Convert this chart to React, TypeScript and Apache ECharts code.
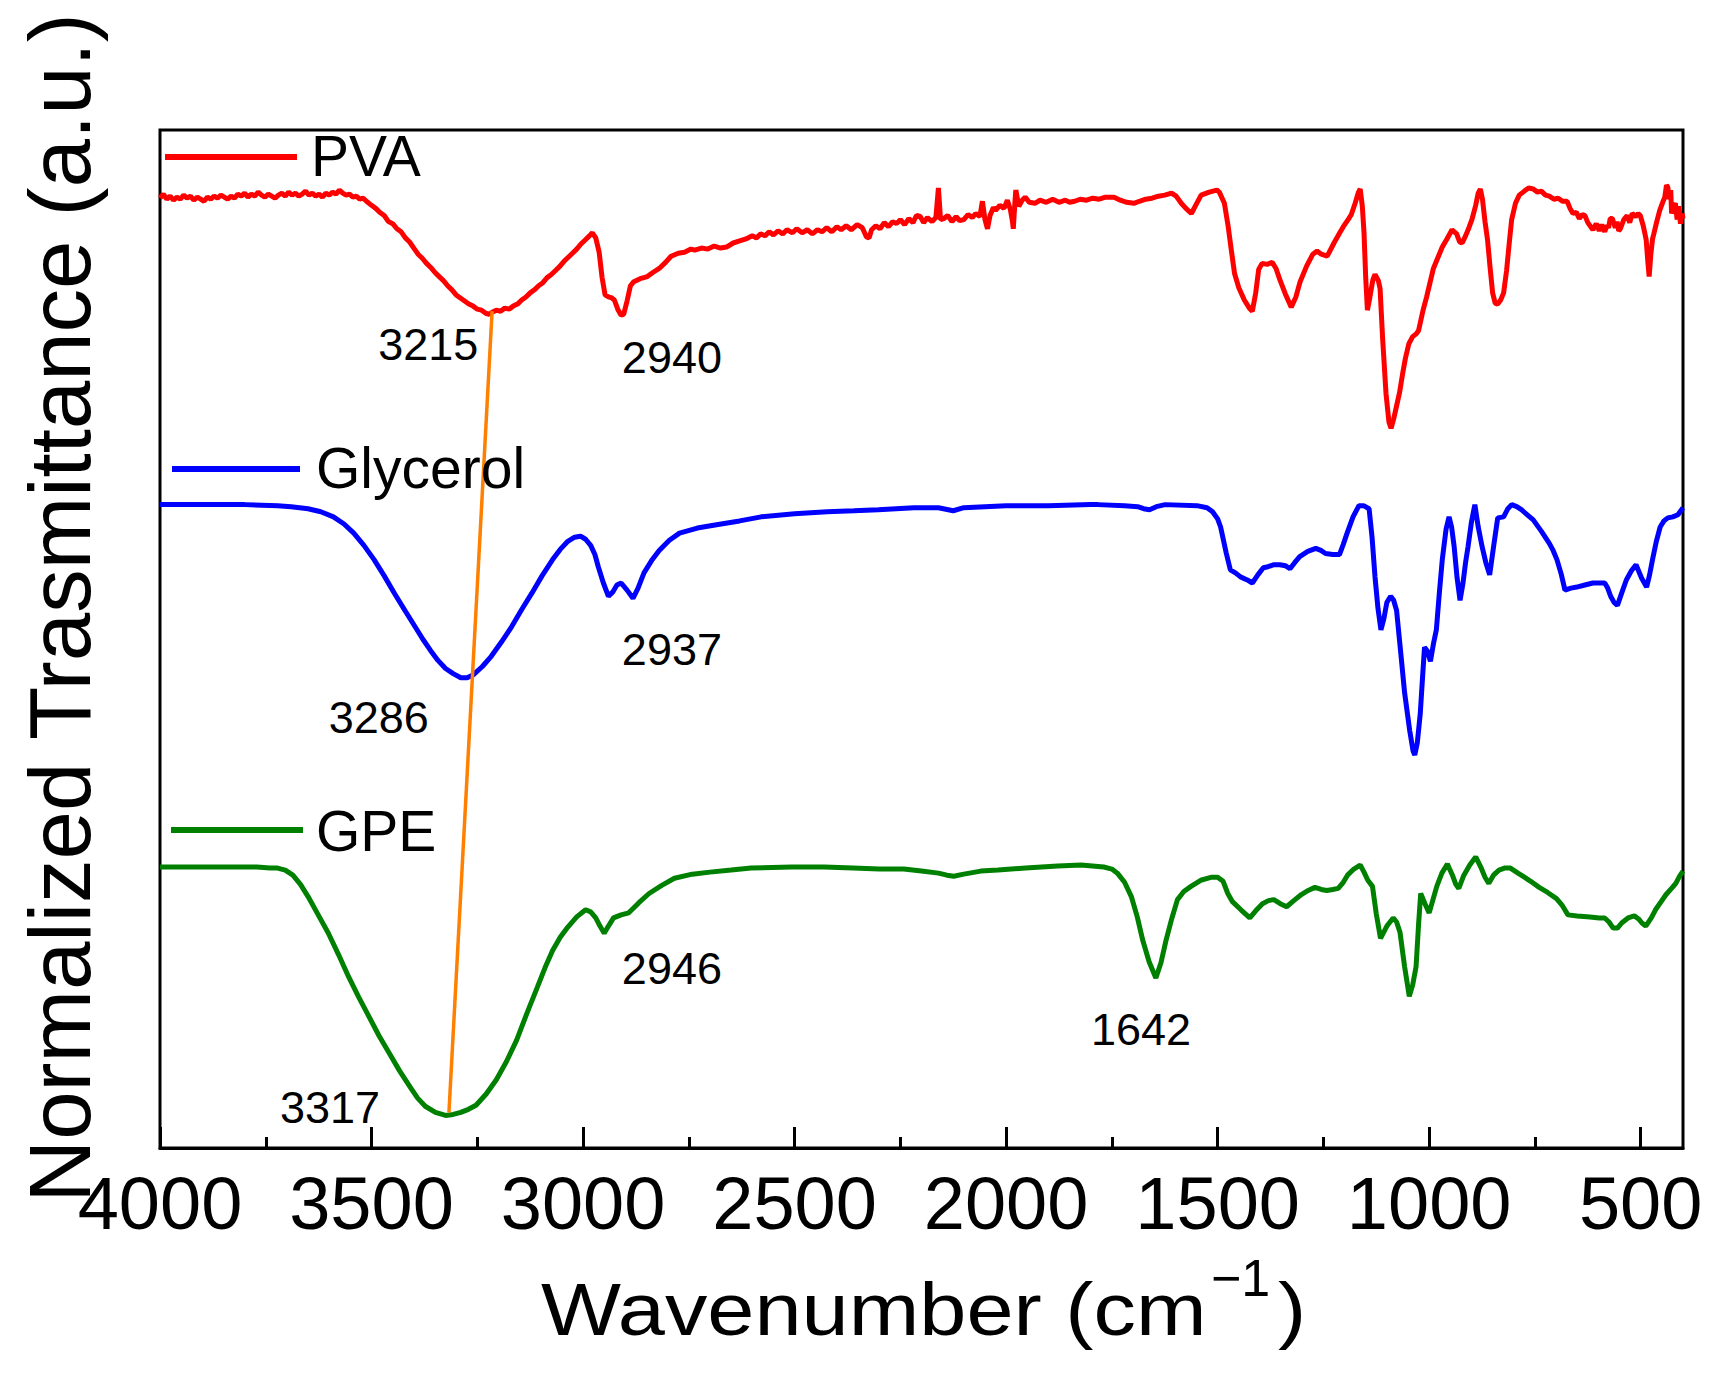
import React, { useEffect, useRef } from "react";
import * as echarts from "echarts";

const FONT = "Arial, 'Liberation Sans', Helvetica, sans-serif";

const xTicks = [4000, 3500, 3000, 2500, 2000, 1500, 1000, 500];
const xMinorTicks = [3750, 3250, 2750, 2250, 1750, 1250, 750];

const seriesNames = ["PVA", "Glycerol", "GPE"];
const seriesColors = ["#ff0000", "#0000ff", "#008000"];

const pva: number[][] = [
  [4000,93.3],[3992,93.7],[3984,93.2],[3976,93.5],[3968,93.1],[3960,93.4],[3952,93.2],[3944,93.6],[3936,93.3],[3928,93.5],
  [3920,93.1],[3912,93.4],[3904,93.2],[3896,93.0],[3888,93.4],[3880,93.2],[3872,93.5],[3864,93.3],[3856,93.6],[3848,93.4],
  [3840,93.2],[3832,93.5],[3824,93.3],[3816,93.7],[3808,93.5],[3800,93.8],[3792,93.4],[3784,93.7],[3776,93.5],[3768,93.9],
  [3760,93.6],[3752,93.4],[3744,93.7],[3736,93.5],[3728,93.3],[3720,93.6],[3712,93.8],[3704,93.5],[3696,93.9],[3688,93.6],
  [3680,93.8],[3672,93.5],[3664,93.7],[3656,94.0],[3648,93.6],[3640,93.8],[3632,93.5],[3624,93.7],[3616,93.4],[3608,93.8],
  [3600,93.6],[3592,93.9],[3584,93.7],[3576,94.1],[3568,93.8],[3560,93.6],[3552,93.7],[3544,93.4],[3536,93.5],[3528,93.2],
  [3520,93.3],[3512,93.0],[3500,92.6],[3490,92.3],[3480,91.9],[3470,91.6],[3460,91.0],[3450,90.8],[3440,90.3],[3430,90.0],
  [3420,89.4],[3410,89.0],[3400,88.4],[3390,87.8],[3380,87.4],[3370,86.9],[3360,86.5],[3350,86.0],[3340,85.6],[3330,85.2],
  [3320,84.7],[3310,84.3],[3300,83.8],[3290,83.5],[3280,83.2],[3270,82.9],[3260,82.7],[3250,82.4],[3240,82.3],[3230,82.0],
  [3222,81.9],[3215,82.1],[3205,82.3],[3195,82.2],[3185,82.5],[3175,82.4],[3165,82.7],[3155,82.9],[3145,83.3],[3135,83.6],
  [3125,84.0],[3115,84.3],[3105,84.7],[3095,85.0],[3085,85.5],[3075,85.8],[3065,86.2],[3055,86.6],[3045,87.1],[3035,87.5],
  [3025,87.9],[3015,88.3],[3005,88.8],[2995,89.2],[2985,89.6],[2978,89.9],[2970,89.4],[2962,88.0],[2955,85.5],[2948,83.8],
  [2940,83.6],[2932,83.5],[2926,83.3],[2918,82.4],[2910,81.8],[2904,81.9],[2896,83.2],[2888,84.7],[2880,85.1],[2865,85.4],
  [2848,85.6],[2835,86.0],[2820,86.4],[2805,87.0],[2792,87.6],[2775,87.9],[2760,88.0],[2745,88.3],[2736,88.2],[2720,88.4],
  [2705,88.3],[2690,88.6],[2675,88.4],[2661,88.5],[2645,88.9],[2630,89.1],[2615,89.3],[2600,89.6],[2590,89.4],[2580,89.8],
  [2570,89.6],[2560,90.0],[2550,89.7],[2539,90.1],[2528,89.8],[2518,90.2],[2505,89.9],[2495,90.3],[2482,89.9],[2470,90.2],
  [2458,89.8],[2446,90.2],[2435,90.0],[2424,90.4],[2412,90.0],[2400,90.5],[2390,90.2],[2378,90.6],[2366,90.2],[2352,90.7],
  [2340,90.4],[2330,89.5],[2324,89.4],[2318,90.2],[2308,90.6],[2298,90.3],[2288,90.9],[2278,90.5],[2268,91.0],[2259,90.8],
  [2250,91.2],[2240,90.7],[2230,91.3],[2220,90.9],[2212,91.6],[2203,91.5],[2195,90.9],[2186,91.4],[2175,91.0],[2166,91.4],
  [2160,94.3],[2155,91.2],[2147,91.3],[2138,91.6],[2128,91.0],[2118,91.5],[2110,91.1],[2100,91.2],[2090,91.7],[2080,91.4],
  [2072,91.8],[2062,91.5],[2056,93.0],[2050,91.2],[2044,90.3],[2038,91.6],[2030,92.4],[2025,92.1],[2015,92.6],[2005,92.3],
  [1997,93.1],[1990,92.2],[1985,91.0],[1983,90.3],[1979,93.0],[1977,94.1],[1970,92.5],[1962,93.1],[1955,93.4],[1945,92.9],
  [1932,92.8],[1920,93.1],[1905,92.9],[1890,93.2],[1875,92.9],[1860,93.1],[1850,92.9],[1838,93.0],[1825,93.2],[1810,93.1],
  [1795,93.3],[1780,93.2],[1765,93.4],[1745,93.4],[1730,93.1],[1715,92.9],[1698,92.8],[1685,93.0],[1670,93.2],[1655,93.3],
  [1640,93.5],[1625,93.6],[1609,93.8],[1598,93.5],[1586,92.8],[1575,92.3],[1562,91.8],[1552,92.6],[1539,93.6],[1520,93.9],
  [1502,94.1],[1496,93.9],[1484,92.8],[1475,90.5],[1468,88.3],[1460,85.9],[1450,84.5],[1437,83.3],[1425,82.5],[1418,82.2],
  [1410,84.0],[1403,86.3],[1395,86.9],[1383,86.8],[1371,87.0],[1362,86.4],[1353,85.3],[1340,83.9],[1326,82.6],[1315,83.6],
  [1305,85.1],[1290,86.6],[1275,87.8],[1265,88.1],[1255,87.8],[1241,87.6],[1225,88.9],[1210,90.0],[1203,90.5],[1190,91.3],
  [1184,91.7],[1175,92.8],[1167,93.9],[1163,94.2],[1158,92.5],[1154,89.9],[1150,85.5],[1146,82.3],[1140,83.6],[1133,85.3],
  [1128,85.8],[1120,85.2],[1116,84.4],[1110,79.5],[1102,74.1],[1095,71.3],[1090,70.7],[1084,71.6],[1077,72.9],[1070,74.2],
  [1063,76.0],[1056,77.6],[1048,79.0],[1039,79.7],[1030,80.0],[1025,80.3],[1015,82.2],[1006,83.6],[998,85.0],[990,86.4],
  [980,87.4],[969,88.5],[958,89.3],[946,90.2],[935,89.8],[928,89.0],[922,88.9],[914,89.6],[906,90.4],[899,91.2],
  [890,92.6],[884,93.8],[879,94.2],[874,93.2],[868,91.0],[862,89.2],[856,86.5],[850,84.0],[844,83.0],[838,82.9],
  [831,83.3],[824,84.0],[817,86.2],[810,89.2],[805,91.2],[796,92.8],[787,93.6],[775,94.0],[765,94.3],[754,94.2],
  [744,93.9],[735,94.0],[725,93.6],[716,93.5],[705,93.2],[695,93.3],[685,93.0],[674,93.0],[667,92.3],[660,91.8],
  [652,91.9],[645,91.3],[638,91.7],[632,91.6],[625,90.9],[618,90.5],[613,90.2],[605,90.8],[598,90.1],[592,90.7],
  [585,90.0],[580,90.6],[576,90.4],[572,91.3],[567,91.3],[560,90.4],[556,91.0],[552,90.1],[548,90.3],[540,91.2],
  [532,91.6],[526,90.9],[520,91.8],[512,91.5],[506,91.8],[501,91.6],[494,90.6],[490,89.8],[487,89.2],[483,87.0],
  [480,85.6],[476,87.8],[472,89.3],[469,89.8],[462,91.0],[455,92.1],[448,92.9],[443,93.4],[439,94.6],[436,94.4],
  [432,93.2],[429,94.1],[427,91.8],[422,92.5],[418,92.8],[414,91.2],[410,92.5],[406,90.8],[402,91.8],[400,91.3]
];

const glycerol: number[][] = [
  [4000,63.2],[3900,63.2],[3800,63.2],[3722,63.1],[3690,63.0],[3650,62.8],[3620,62.5],[3590,62.0],[3565,61.3],[3542,60.4],
  [3518,59.2],[3494,57.8],[3470,56.2],[3446,54.5],[3421,52.8],[3397,51.2],[3379,50.0],[3361,48.9],[3343,47.9],[3325,47.1],
  [3307,46.6],[3289,46.2],[3274,46.2],[3259,46.5],[3238,47.3],[3217,48.3],[3193,49.7],[3169,51.2],[3145,52.9],[3121,54.5],
  [3097,56.2],[3072,57.8],[3054,58.8],[3036,59.6],[3020,60.0],[3006,60.1],[2994,59.8],[2982,59.2],[2972,58.3],[2964,57.1],
  [2952,55.5],[2940,54.2],[2930,54.6],[2920,55.3],[2910,55.5],[2896,54.8],[2882,54.0],[2870,55.0],[2856,56.5],[2838,57.7],
  [2820,58.7],[2796,59.7],[2772,60.4],[2730,60.9],[2688,61.2],[2630,61.6],[2579,62.0],[2500,62.3],[2423,62.5],[2360,62.6],
  [2302,62.7],[2218,62.9],[2160,62.9],[2125,62.6],[2100,62.9],[2050,63.0],[2000,63.1],[1900,63.1],[1800,63.2],[1783,63.2],
  [1720,63.1],[1689,63.0],[1675,62.8],[1661,62.7],[1645,63.0],[1624,63.2],[1549,63.1],[1525,62.9],[1512,62.5],[1500,61.8],
  [1493,61.0],[1480,58.5],[1470,56.8],[1458,56.5],[1446,56.1],[1430,55.8],[1418,55.5],[1405,56.3],[1392,57.0],[1381,57.1],
  [1367,57.3],[1353,57.3],[1340,57.2],[1329,56.9],[1318,57.5],[1306,58.1],[1287,58.6],[1268,58.9],[1256,58.7],[1245,58.4],
  [1228,58.3],[1212,58.3],[1203,59.3],[1194,60.4],[1180,62.0],[1166,63.1],[1155,63.1],[1142,62.8],[1135,60.0],[1128,56.1],
  [1121,53.0],[1114,50.9],[1107,52.0],[1100,53.6],[1091,54.2],[1084,53.8],[1077,52.8],[1068,49.0],[1058,44.7],[1046,41.0],
  [1038,39.0],[1034,38.6],[1028,39.8],[1021,42.7],[1016,46.0],[1011,49.2],[1004,48.8],[997,47.8],[990,49.5],[983,50.9],
  [976,54.5],[969,57.8],[960,60.8],[953,62.0],[947,61.0],[941,59.1],[934,56.0],[927,53.8],[920,55.5],[914,57.5],
  [908,59.1],[900,61.5],[892,63.2],[884,61.0],[875,59.1],[866,57.5],[857,56.3],[848,59.0],[838,61.9],[824,62.0],
  [814,62.8],[805,63.2],[793,63.0],[782,62.7],[768,62.2],[754,61.7],[735,60.6],[716,59.4],[707,58.7],[698,57.8],
  [688,56.4],[679,54.8],[665,55.0],[651,55.1],[632,55.3],[613,55.5],[599,55.5],[585,55.5],[578,55.0],[571,54.2],
  [563,53.6],[555,53.3],[545,54.5],[534,55.8],[522,56.7],[511,57.3],[498,56.0],[486,55.1],[479,56.3],[472,57.8],
  [463,59.6],[454,61.0],[445,61.6],[436,61.9],[424,62.0],[412,62.2],[400,62.9]
];

const gpe: number[][] = [
  [4000,27.6],[3900,27.6],[3800,27.6],[3771,27.6],[3740,27.5],[3722,27.5],[3704,27.3],[3686,26.8],[3668,25.9],[3650,24.7],
  [3626,22.9],[3602,21.1],[3578,19.0],[3554,16.8],[3530,14.8],[3506,12.9],[3482,11.0],[3458,9.3],[3434,7.6],[3409,6.0],
  [3391,4.9],[3373,4.1],[3349,3.5],[3325,3.2],[3307,3.3],[3289,3.5],[3271,3.8],[3253,4.2],[3229,5.3],[3205,6.7],
  [3181,8.5],[3157,10.6],[3133,13.2],[3108,15.8],[3090,17.7],[3072,19.4],[3054,20.7],[3036,21.7],[3015,22.7],[2994,23.4],
  [2982,23.2],[2970,22.6],[2960,21.8],[2950,21.1],[2940,21.8],[2928,22.6],[2910,22.9],[2892,23.1],[2868,24.1],[2844,25.0],
  [2814,25.8],[2784,26.5],[2742,26.9],[2700,27.1],[2650,27.3],[2603,27.5],[2507,27.6],[2430,27.6],[2362,27.5],[2300,27.4],
  [2242,27.4],[2200,27.2],[2160,27.0],[2140,26.8],[2124,26.7],[2100,26.9],[2060,27.2],[2019,27.3],[1954,27.5],[1878,27.7],
  [1823,27.8],[1769,27.6],[1750,27.4],[1737,27.0],[1720,26.1],[1704,24.7],[1690,22.7],[1677,20.4],[1662,18.3],[1646,16.7],
  [1634,18.2],[1622,20.4],[1608,22.6],[1595,24.4],[1580,25.2],[1563,25.7],[1540,26.3],[1514,26.6],[1500,26.6],[1487,26.2],
  [1476,25.0],[1465,24.2],[1445,23.4],[1424,22.6],[1410,23.3],[1394,24.0],[1380,24.3],[1367,24.4],[1352,24.0],[1337,23.7],
  [1320,24.3],[1302,24.9],[1286,25.3],[1270,25.6],[1255,25.4],[1242,25.3],[1228,25.4],[1215,25.5],[1203,26.1],[1193,26.8],
  [1178,27.4],[1163,27.8],[1154,27.1],[1145,26.3],[1134,25.7],[1125,23.0],[1115,20.6],[1100,21.8],[1085,22.6],[1077,22.2],
  [1069,21.2],[1058,17.8],[1047,14.9],[1039,16.0],[1031,17.8],[1025,22.0],[1020,25.0],[1010,24.0],[1000,23.1],[991,24.4],
  [982,25.7],[970,27.0],[957,27.9],[945,26.8],[937,25.9],[930,25.5],[918,26.8],[904,27.8],[890,28.6],[878,27.6],
  [868,26.6],[859,26.0],[848,26.8],[835,27.3],[822,27.5],[808,27.5],[790,27.0],[775,26.6],[760,26.2],[740,25.6],
  [720,25.1],[699,24.5],[685,23.8],[672,22.9],[650,22.8],[620,22.7],[598,22.6],[585,22.6],[575,22.2],[565,21.6],
  [555,21.6],[545,22.1],[530,22.6],[515,22.8],[505,22.5],[497,22.1],[488,21.8],[475,22.6],[465,23.4],[455,24.0],
  [440,24.9],[425,25.6],[417,26.0],[408,26.7],[400,27.2]
];

const shiftLine: number[][] = [[3215, 82.2], [3317, 3.5]];

const annotationText = ["3215", "2940", "3286", "2937", "2946", "3317", "1642"];
const annotationPos: number[][] = [
  [3366, 78.9], [2790, 77.7], [3483, 42.3], [2790, 49.0], [2790, 17.6], [3598, 4.0], [1681, 11.6]
];

export default function App() {
  const ref = useRef<HTMLDivElement>(null);

  useEffect(() => {
    document.body.style.margin = "0";
    if (!ref.current) return;
    const chart = echarts.init(ref.current, null, { renderer: "svg" });

    const legendY = [157, 469, 830];
    const legendX1 = [165, 172, 171];
    const legendX2 = [297, 300, 303];
    const legendTextX = [311, 316, 316];
    const legendTextY = [156, 468, 831];

    const graphics: any[] = [];
    seriesNames.forEach((name, i) => {
      graphics.push({
        type: "line",
        shape: { x1: legendX1[i], y1: legendY[i], x2: legendX2[i], y2: legendY[i] },
        style: { stroke: seriesColors[i], lineWidth: 6 },
        z: 100,
      });
      graphics.push({
        type: "text",
        x: legendTextX[i],
        y: legendTextY[i],
        style: {
          text: name, fontSize: 57, fontFamily: FONT, fill: "#000",
          align: "left", verticalAlign: "middle", textAlign: "left", textVerticalAlign: "middle",
        },
        z: 100,
      });
    });

    // axis titles
    graphics.push({
      type: "text",
      x: 59,
      y: 608,
      rotation: Math.PI / 2,
      style: {
        text: "Normalized Trasmittance (a.u.)", fontSize: 87, fontFamily: FONT, fill: "#000",
        align: "center", verticalAlign: "middle", textAlign: "center", textVerticalAlign: "middle",
      },
      z: 100,
    });
    graphics.push({
      type: "text",
      x: 541,
      y: 1309,
      scaleX: 1.13,
      style: {
        text: "Wavenumber (cm", fontSize: 75, fontFamily: FONT, fill: "#000",
        align: "left", verticalAlign: "middle", textAlign: "left", textVerticalAlign: "middle",
      },
      z: 100,
    });
    graphics.push({
      type: "text",
      x: 1211,
      y: 1278,
      style: {
        text: "\u22121", fontSize: 52, fontFamily: FONT, fill: "#000",
        align: "left", verticalAlign: "middle", textAlign: "left", textVerticalAlign: "middle",
      },
      z: 100,
    });
    graphics.push({
      type: "text",
      x: 1278,
      y: 1309,
      scaleX: 1.13,
      style: {
        text: ")", fontSize: 75, fontFamily: FONT, fill: "#000",
        align: "left", verticalAlign: "middle", textAlign: "left", textVerticalAlign: "middle",
      },
      z: 100,
    });

    const option: any = {
      animation: false,
      backgroundColor: "#ffffff",
      grid: {
        left: 160, right: 39, top: 130, bottom: 233,
        show: true, borderColor: "#000", borderWidth: 3, backgroundColor: "transparent",
        containLabel: false, outerBoundsMode: "none",
      },
      xAxis: [
        {
          type: "value", min: 400, max: 4000, inverse: true, position: "bottom",
          axisLine: { show: true, lineStyle: { color: "#000", width: 3 } },
          axisTick: { show: true, inside: true, length: 21, lineStyle: { color: "#000", width: 3 }, customValues: xTicks },
          axisLabel: {
            show: true, customValues: xTicks, fontSize: 74, color: "#000", fontFamily: FONT, margin: 18,
            formatter: (v: number) => String(v), hideOverlap: false,
          },
          splitLine: { show: false },
        },
        {
          type: "value", min: 400, max: 4000, inverse: true, position: "bottom", offset: 0,
          axisLine: { show: false },
          axisTick: { show: true, inside: true, length: 11, lineStyle: { color: "#000", width: 3 }, customValues: xMinorTicks },
          axisLabel: { show: false },
          splitLine: { show: false },
        },
      ],
      yAxis: { type: "value", min: 0, max: 100, show: false },
      graphic: graphics,
      series: [
        ...[pva, glycerol, gpe].map((d, i) => ({
          name: seriesNames[i],
          type: "line",
          data: d,
          showSymbol: false,
          symbol: "none",
          lineStyle: { color: seriesColors[i], width: 5 },
          itemStyle: { color: seriesColors[i] },
          z: 3,
        })),
        {
          name: "shift",
          type: "line",
          data: shiftLine,
          showSymbol: false,
          symbol: "none",
          lineStyle: { color: "#ff8000", width: 3.5 },
          z: 4,
        },
        {
          name: "peaks",
          type: "scatter",
          data: annotationPos,
          symbolSize: 1,
          itemStyle: { color: "rgba(0,0,0,0)" },
          label: {
            show: true,
            position: "inside",
            formatter: (p: any) => annotationText[p.dataIndex],
            fontSize: 45,
            fontFamily: FONT,
            color: "#000000",
            opacity: 1,
            textBorderWidth: 0,
          },
          z: 5,
        },
      ],
    };

    chart.setOption(option);
    return () => chart.dispose();
  }, []);

  return <div ref={ref} style={{ width: "1722px", height: "1381px" }} />;
}
